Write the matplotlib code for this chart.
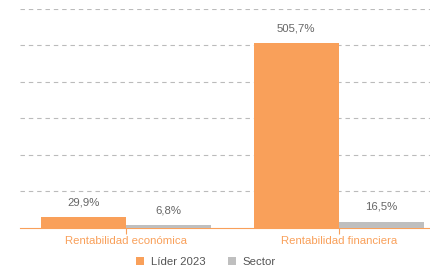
import matplotlib.pyplot as plt
import numpy as np

plt.rcParams['font.family'] = ['Liberation Sans', 'DejaVu Sans']

# data
categories = ['Rentabilidad económica', 'Rentabilidad financiera']
lider = [29.9, 505.7]
sector = [6.8, 16.5]
series_names = ['Líder 2023', 'Sector']

orange = '#F9A05A'
grey = '#BFBFBF'

fig = plt.figure(figsize=(4.3, 2.69), dpi=100)
ax = fig.add_axes([20 / 430, 1 - 227.7 / 269, 425 / 430, 219 / 269])

x = np.arange(len(categories))
w = 0.4
b1 = ax.bar(x - w / 2, lider, w, color=orange, label=series_names[0], zorder=3)
b2 = ax.bar(x + w / 2, sector, w, color=grey, label=series_names[1], zorder=3)

for bars, vals in [(b1, lider), (b2, sector)]:
    for r, v in zip(bars, vals):
        ax.annotate(f'{v:.1f}%'.replace('.', ','),
                    (r.get_x() + r.get_width() / 2, r.get_height()),
                    xytext=(0, 7), textcoords='offset points',
                    ha='center', va='bottom', fontsize=8.2, color='#666666')

ax.set_xlim(-0.5, 1.5)
ax.set_ylim(0, 600)
ax.set_yticks([100, 200, 300, 400, 500, 600])
ax.yaxis.grid(True, linestyle=(0, (4, 3.5)), color='#BBBBBB', linewidth=0.8, zorder=0)
ax.tick_params(axis='y', length=0, labelleft=False)
ax.set_xticks(x)
ax.set_xticklabels(categories, fontsize=8.2, color=orange)
ax.tick_params(axis='x', length=4, color=orange, width=0.8, pad=2)

for s in ['top', 'right', 'left']:
    ax.spines[s].set_visible(False)
ax.spines['bottom'].set_color(orange)
ax.spines['bottom'].set_linewidth(0.8)

fig.legend(handles=[b1, b2], labels=series_names, loc='center',
           bbox_to_anchor=(206 / 430, 1 - 262 / 269), ncol=2, frameon=False,
           fontsize=8.2, labelcolor='#555555', handlelength=0.7, handleheight=0.7,
           columnspacing=2.0, handletextpad=0.6)

fig.savefig('out.png', dpi=100)
